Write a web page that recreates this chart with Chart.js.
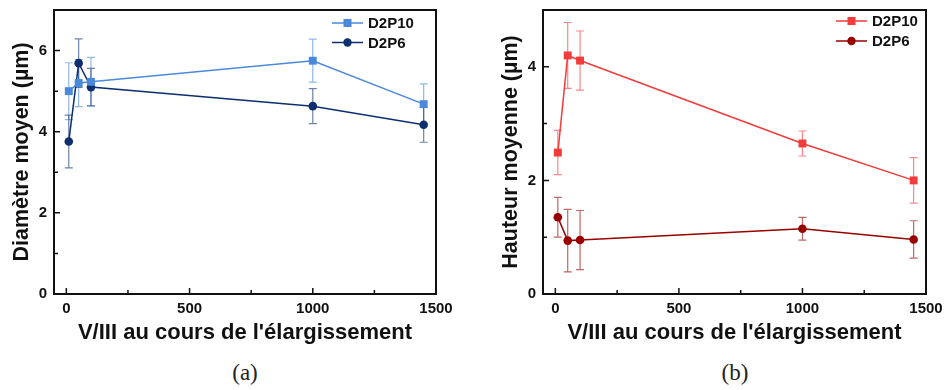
<!DOCTYPE html>
<html><head><meta charset="utf-8">
<script src="https://cdn.jsdelivr.net/npm/chart.js@4.4.1/dist/chart.umd.min.js"></script>
<style>
html,body{margin:0;padding:0;background:#fff;}
#wrap{position:relative;width:944px;height:390px;overflow:hidden;}
.cv{position:absolute;top:0;}
.cap{position:absolute;top:360px;font-family:"Liberation Serif","DejaVu Serif",serif;font-size:23px;color:#222;transform:translateX(-50%);}
</style></head>
<body>
<div id="wrap">
  <div class="cv" style="left:0;width:472px;height:350px;"><canvas id="ca" width="472" height="350"></canvas></div>
  <div class="cv" style="left:472px;width:472px;height:350px;"><canvas id="cb" width="472" height="350"></canvas></div>
  <div class="cap" style="left:245px;">(a)</div>
  <div class="cap" style="left:735px;">(b)</div>
</div>
<script>
// ---- data ----
const vIII = [10, 50, 100, 1000, 1450];
const seriesNames = ['D2P10', 'D2P6'];

const diamD2P10 = [5.0, 5.2, 5.23, 5.75, 4.68];
const diamD2P10Err = [0.7, 0.58, 0.6, 0.53, 0.5];
const diamD2P6 = [3.76, 5.69, 5.1, 4.63, 4.17];
const diamD2P6Err = [0.65, 0.6, 0.46, 0.43, 0.43];

const hautD2P10 = [2.49, 4.2, 4.11, 2.65, 2.0];
const hautD2P10Err = [0.39, 0.58, 0.52, 0.22, 0.4];
const hautD2P6 = [1.35, 0.94, 0.95, 1.15, 0.96];
const hautD2P6Err = [0.35, 0.55, 0.52, 0.2, 0.33];

const xTicks = [0, 250, 500, 750, 1000, 1250, 1500];
const xLabels = {0:'0', 500:'500', 1000:'1000', 1500:'1500'};
const yTicksA = [0, 1, 2, 3, 4, 5, 6, 7];
const yLabelsA = {0:'0', 2:'2', 4:'4', 6:'6'};
const yTicksB = [0, 1, 2, 3, 4, 5];
const yLabelsB = {0:'0', 2:'2', 4:'4'};

const colA10 = '#4a89dc', colA6 = '#0d2f6e';
const colB10 = '#f23b3b', colB6 = '#990000';

function pts(xs, ys, es) { return xs.map((x, i) => ({x: x, y: ys[i], e: es[i]})); }

// error bars, frame, inward ticks, legend
const decor = {
  id: 'decor',
  beforeDatasetsDraw(chart) {
    const ctx = chart.ctx, xs = chart.scales.x, ys = chart.scales.y;
    chart.data.datasets.forEach((ds) => {
      ctx.save();
      ctx.strokeStyle = ds.errColor;
      ctx.lineWidth = 1.2;
      ds.data.forEach(p => {
        const px = xs.getPixelForValue(p.x);
        const t = ys.getPixelForValue(p.y + p.e), b = ys.getPixelForValue(p.y - p.e);
        ctx.beginPath();
        ctx.moveTo(px, t); ctx.lineTo(px, b);
        ctx.moveTo(px - 4, t); ctx.lineTo(px + 4, t);
        ctx.moveTo(px - 4, b); ctx.lineTo(px + 4, b);
        ctx.stroke();
      });
      ctx.restore();
    });
  },
  afterDraw(chart, args, opts) {
    const ctx = chart.ctx, a = chart.chartArea, xs = chart.scales.x, ys = chart.scales.y;
    ctx.save();
    ctx.strokeStyle = '#111';
    ctx.lineWidth = 2;
    ctx.strokeRect(a.left, a.top, a.right - a.left, a.bottom - a.top);
    ctx.lineWidth = 1.5;
    ctx.beginPath();
    xs.ticks.forEach(t => {
      const px = xs.getPixelForValue(t.value);
      const len = (t.label && t.label !== '') ? 6 : 4;
      ctx.moveTo(px, a.bottom); ctx.lineTo(px, a.bottom - len);
    });
    ys.ticks.forEach(t => {
      const py = ys.getPixelForValue(t.value);
      const len = (t.label && t.label !== '') ? 6 : 4;
      ctx.moveTo(a.left, py); ctx.lineTo(a.left + len, py);
    });
    ctx.stroke();
    // legend
    ctx.font = 'bold 15px "Liberation Sans", Arial, sans-serif';
    ctx.textBaseline = 'middle';
    ctx.textAlign = 'left';
    chart.data.datasets.forEach((ds, i) => {
      const y = opts.y0 + i * opts.dy;
      const x0 = a.right - opts.lineOff, x1 = x0 + 31, mx = (x0 + x1) / 2;
      ctx.strokeStyle = ds.borderColor;
      ctx.fillStyle = ds.borderColor;
      ctx.lineWidth = 1.5;
      ctx.beginPath(); ctx.moveTo(x0, y); ctx.lineTo(x1, y); ctx.stroke();
      if (ds.pointStyle === 'rect') {
        ctx.fillRect(mx - 4, y - 4, 8, 8);
      } else {
        ctx.beginPath(); ctx.arc(mx, y, 4.2, 0, Math.PI * 2); ctx.fill();
      }
      ctx.fillStyle = '#111';
      ctx.fillText(ds.label, a.right - opts.textOff, y + 1);
    });
    ctx.restore();
  }
};

function makeChart(id, cfg) {
  const font = {family: '"Liberation Sans", Arial, sans-serif', weight: 'bold'};
  return new Chart(document.getElementById(id), {
    type: 'line',
    data: {
      datasets: [
        {label: seriesNames[0], data: cfg.d1, borderColor: cfg.c1, backgroundColor: cfg.c1,
         errColor: cfg.e1, pointStyle: 'rect', pointRadius: 5.6, pointHoverRadius: 5.6,
         borderWidth: 1.5, pointBorderWidth: 0, tension: 0},
        {label: seriesNames[1], data: cfg.d2, borderColor: cfg.c2, backgroundColor: cfg.c2,
         errColor: cfg.e2, pointStyle: 'circle', pointRadius: 4.3, pointHoverRadius: 4.3,
         borderWidth: 1.5, pointBorderWidth: 0, tension: 0}
      ]
    },
    options: {
      responsive: false, animation: false,
      events: [],
      layout: {padding: {left: 0, right: cfg.padRight, top: 10, bottom: 0}},
      plugins: {legend: {display: false}, tooltip: {enabled: false},
                decor: cfg.legend},
      scales: {
        x: {
          type: 'linear', min: -50, max: 1500,
          afterBuildTicks: s => { s.ticks = xTicks.map(v => ({value: v})); },
          afterFit: s => { s.height = 56; s.paddingLeft = 0; s.paddingRight = 0; },
          grid: {display: false, drawTicks: false}, border: {display: false},
          ticks: {autoSkip: false, maxRotation: 0, padding: 6, color: '#111',
                  font: Object.assign({size: 15}, font),
                  callback: v => (xLabels[v] !== undefined ? xLabels[v] : '')},
          title: {display: true, text: "V/III au cours de l'élargissement", color: '#111',
                  font: Object.assign({size: 22}, font), padding: {top: 0, bottom: 4}}
        },
        y: {
          type: 'linear', min: 0, max: cfg.ymax,
          afterBuildTicks: s => { s.ticks = cfg.yTicks.map(v => ({value: v})); },
          afterFit: s => { s.width = cfg.yWidth; s.paddingTop = 0; s.paddingBottom = 0; },
          grid: {display: false, drawTicks: false}, border: {display: false},
          ticks: {autoSkip: false, padding: 7, color: '#111',
                  font: Object.assign({size: 15}, font),
                  callback: v => (cfg.yLabels[v] !== undefined ? cfg.yLabels[v] : '')},
          title: {display: true, text: cfg.ytitle, color: '#111',
                  font: Object.assign({size: 21.5}, font), padding: {top: cfg.yTitlePad, bottom: 0}}
        }
      }
    },
    plugins: [decor]
  });
}

makeChart('ca', {
  d1: pts(vIII, diamD2P10, diamD2P10Err), d2: pts(vIII, diamD2P6, diamD2P6Err),
  c1: colA10, c2: colA6, e1: 'rgba(74,137,220,0.6)', e2: 'rgba(13,47,110,0.6)',
  ymax: 7, yTicks: yTicksA, yLabels: yLabelsA, ytitle: 'Diamètre moyen (µm)',
  yWidth: 54, yTitlePad: 9, padRight: 36,
  legend: {y0: 23, dy: 19.5, lineOff: 104, textOff: 68}
});
makeChart('cb', {
  d1: pts(vIII, hautD2P10, hautD2P10Err), d2: pts(vIII, hautD2P6, hautD2P6Err),
  c1: colB10, c2: colB6, e1: 'rgba(242,59,59,0.6)', e2: 'rgba(153,0,0,0.6)',
  ymax: 5, yTicks: yTicksB, yLabels: yLabelsB, ytitle: 'Hauteur moyenne (µm)',
  yWidth: 71, yTitlePad: 26, padRight: 18,
  legend: {y0: 21, dy: 20, lineOff: 90, textOff: 54}
});
</script>
</body></html>
